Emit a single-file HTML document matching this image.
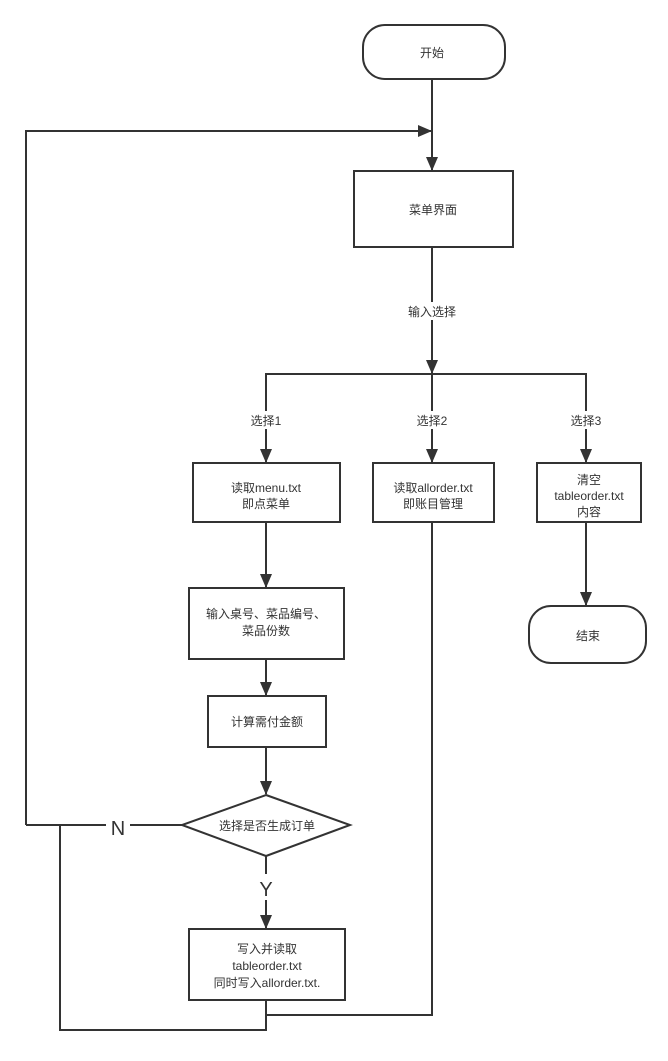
<!DOCTYPE html>
<html><head><meta charset="utf-8"><style>
html,body{margin:0;padding:0;background:#fff;}
svg text{font-family:"Liberation Sans","Noto Sans CJK SC",sans-serif;font-size:12px;fill:#333;text-anchor:middle;}
</style></head><body>
<svg width="668" height="1056" viewBox="0 0 668 1056" xmlns="http://www.w3.org/2000/svg">
<defs><marker id="a" markerWidth="14" markerHeight="12" refX="13" refY="6" orient="auto" markerUnits="userSpaceOnUse"><path d="M0,0 L14,6 L0,12 Z" fill="#333"/></marker></defs>
<g stroke="#333" stroke-width="2" fill="none">
<rect x="363" y="25" width="142" height="54" rx="22" fill="#fff"/>
<line x1="432" y1="79" x2="432" y2="170" marker-end="url(#a)"/>
<polyline points="26,825 26,131 431,131" marker-end="url(#a)"/>
<rect x="354" y="171" width="159" height="76" fill="#fff"/>
<line x1="432" y1="247" x2="432" y2="373" marker-end="url(#a)"/>
<polyline points="266,461 266,374 586,374 586,461"/>
<line x1="266" y1="430" x2="266" y2="462" marker-end="url(#a)"/>
<line x1="586" y1="430" x2="586" y2="462" marker-end="url(#a)"/>
<line x1="432" y1="374" x2="432" y2="462" marker-end="url(#a)"/>
<rect x="193" y="463" width="147" height="59" fill="#fff"/>
<rect x="373" y="463" width="121" height="59" fill="#fff"/>
<rect x="537" y="463" width="104" height="59" fill="#fff"/>
<line x1="266" y1="522" x2="266" y2="587" marker-end="url(#a)"/>
<line x1="586" y1="522" x2="586" y2="605" marker-end="url(#a)"/>
<rect x="529" y="606" width="117" height="57" rx="22" fill="#fff"/>
<rect x="189" y="588" width="155" height="71" fill="#fff"/>
<line x1="266" y1="659" x2="266" y2="695" marker-end="url(#a)"/>
<rect x="208" y="696" width="118" height="51" fill="#fff"/>
<line x1="266" y1="747" x2="266" y2="794" marker-end="url(#a)"/>
<polygon points="266,795 350,825 266,856 182,825" fill="#fff"/>
<line x1="182" y1="825" x2="26" y2="825"/>
<line x1="266" y1="856" x2="266" y2="928" marker-end="url(#a)"/>
<rect x="189" y="929" width="156" height="71" fill="#fff"/>
<polyline points="266,1000 266,1030 60,1030 60,825"/>
<polyline points="432,522 432,1015 266,1015"/>
</g>
<rect x="395" y="302" width="74" height="18" fill="#fff"/>
<text x="432" y="316">输入选择</text>
<rect x="244" y="411" width="44" height="18" fill="#fff"/><text x="266" y="425">选择1</text>
<rect x="410" y="411" width="44" height="18" fill="#fff"/><text x="432" y="425">选择2</text>
<rect x="564" y="411" width="44" height="18" fill="#fff"/><text x="586" y="425">选择3</text>
<text x="432" y="57">开始</text>
<text x="433" y="214">菜单界面</text>
<text x="266" y="492">读取menu.txt</text><text x="266" y="508">即点菜单</text>
<text x="433" y="492">读取allorder.txt</text><text x="433" y="508">即账目管理</text>
<text x="589" y="484">清空</text><text x="589" y="500">tableorder.txt</text><text x="589" y="516">内容</text>
<text x="588" y="640">结束</text>
<text x="266" y="618">输入桌号、菜品编号、</text><text x="266" y="635">菜品份数</text>
<text x="267" y="726">计算需付金额</text>
<text x="267" y="830">选择是否生成订单</text>
<rect x="106" y="815" width="24" height="22" fill="#fff"/>
<text x="118" y="835" style="font-size:20px">N</text>
<rect x="254" y="874" width="24" height="26" fill="#fff"/>
<text x="266" y="896" style="font-size:20px">Y</text>
<text x="267" y="953">写入并读取</text><text x="267" y="970">tableorder.txt</text><text x="267" y="987">同时写入allorder.txt.</text>
</svg>
</body></html>
